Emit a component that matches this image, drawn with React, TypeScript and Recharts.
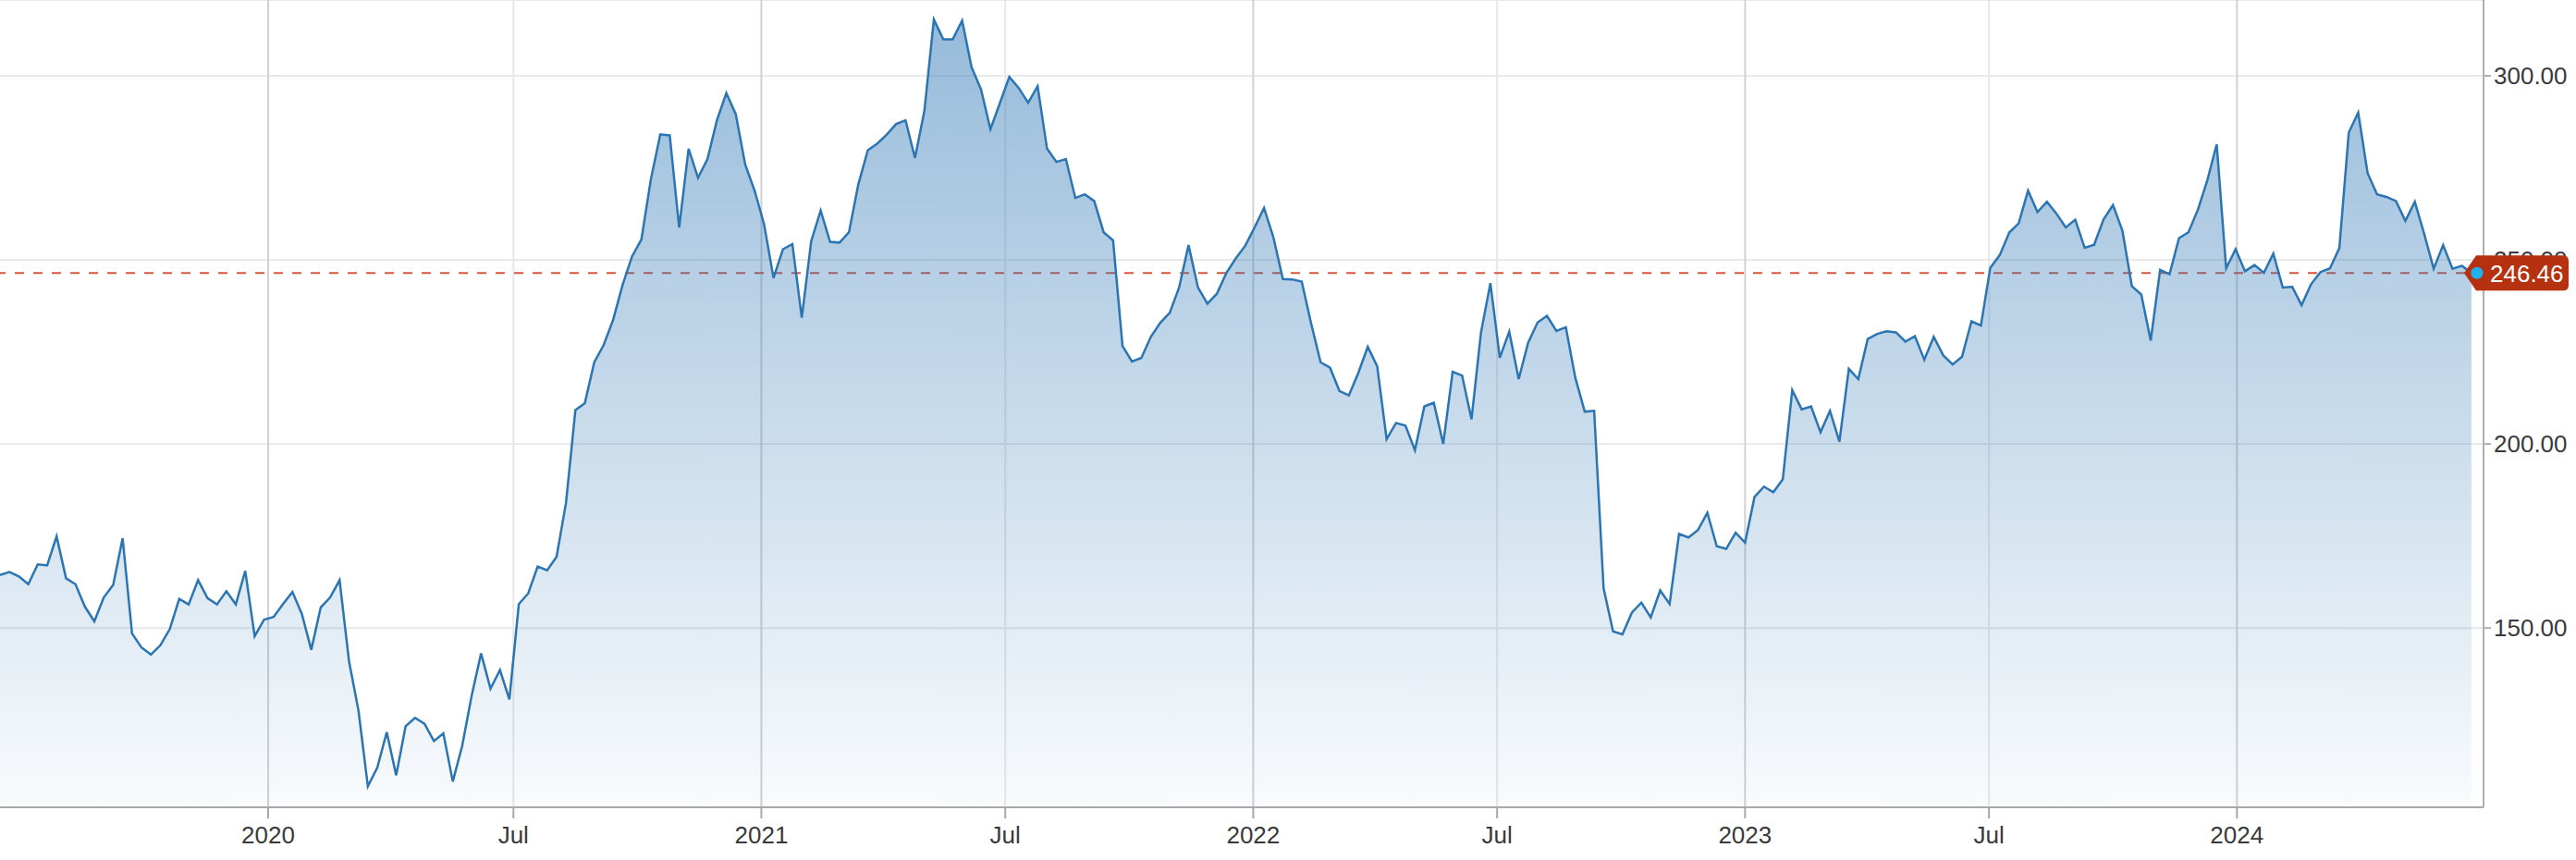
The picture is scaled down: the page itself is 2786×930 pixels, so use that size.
import React from 'react';
import { AreaChart, Area, XAxis, YAxis, CartesianGrid, ReferenceLine, ReferenceDot } from 'recharts';

// weekly closes, first week starting mid-June 2019
const startDate = '2019-06-16';
const prices = [
  164.4, 165.2, 164.0, 161.9, 167.3, 167.0, 174.9, 163.5, 161.9, 155.8,
  151.8, 158.3, 161.7, 174.4, 148.5, 144.7, 142.8, 145.3, 149.7, 157.9,
  156.4, 163.0, 158.1, 156.4, 160.0, 156.4, 165.5, 147.8, 152.3, 153.0,
  156.5, 159.8, 153.8, 144.1, 155.6, 158.3, 163.0, 141.0, 127.6, 107.0,
  112.1, 121.7, 110.0, 123.3, 125.6, 124.0, 119.3, 121.4, 108.3, 118.0,
  131.6, 143.1, 133.5, 138.6, 130.6, 156.5, 159.4, 166.7, 165.7, 169.3,
  183.9, 209.2, 211.1, 222.2, 226.9, 233.7, 243.2, 250.9, 255.6, 271.9,
  284.1, 283.8, 258.8, 280.2, 272.3, 277.4, 287.9, 295.3,
  289.6, 275.9, 268.8, 259.7, 245.1, 252.9, 254.3, 234.3, 255.1, 263.4,
  254.9, 254.7, 257.5, 270.6, 279.8, 281.6, 284.0, 286.9, 287.9, 277.7,
  290.5, 315.3, 309.9, 309.9, 315.0, 302.3, 296.3, 285.5, 292.6, 299.7,
  296.7, 292.7, 297.2, 280.2, 276.6, 277.4, 266.8,
  267.8, 266.0, 257.5, 255.3, 226.6, 222.4, 223.4, 229.1, 232.9, 235.6,
  242.5, 254.0, 242.5, 238.1, 240.8, 246.4, 250.4, 253.8, 258.8, 264.1,
  256.1, 244.8, 244.7, 244.1, 232.7, 222.2, 220.7, 214.4, 213.2, 219.3,
  226.4, 221.1, 201.3, 205.7, 205.0, 198.3, 210.2, 211.2, 200.0,
  219.6, 218.6, 206.7, 230.2, 243.7, 223.4, 230.5, 217.6, 227.5, 233.0,
  234.8, 230.7, 231.7, 218.0, 208.8, 209.0, 160.8, 149.1, 148.3, 154.2,
  156.9, 152.9, 160.2, 156.5, 175.6, 174.6, 176.6, 181.3, 172.2, 171.5,
  175.9, 173.2, 185.6, 188.4, 186.9, 190.4, 214.6, 209.4,
  210.2, 203.2, 209.0, 200.6, 220.4, 217.6, 228.5, 229.9, 230.6, 230.3,
  227.8, 229.3, 222.9, 229.1, 224.1, 221.6, 223.7, 233.3, 232.2, 247.9,
  251.3, 257.4, 259.9, 268.8, 263.0, 265.8, 262.6, 258.8, 260.9, 253.3,
  254.1, 261.0, 264.9, 258.0, 242.9, 240.6, 228.1,
  247.3, 246.1, 255.9, 257.5, 263.6, 271.6, 281.4, 247.7, 252.9, 246.9,
  248.6, 246.5, 251.7, 242.5, 242.7, 237.7, 243.4, 246.7, 247.7, 253.2,
  284.6, 290.0, 273.5, 267.8, 267.1, 266.0, 260.6, 265.8, 257.0, 247.6,
  254.0, 247.6, 248.4, 246.46,
];
const lastPrice = 246.46;

const xTickDates = [
  '2020-01-01', '2020-07-01', '2021-01-01', '2021-07-01', '2022-01-01',
  '2022-07-01', '2023-01-01', '2023-07-01', '2024-01-01',
];
const xTickLabels = ['2020', 'Jul', '2021', 'Jul', '2022', 'Jul', '2023', 'Jul', '2024'];
const yTicks = [150, 200, 250, 300];

const DAY = 86400000;
const t0 = Date.parse(startDate);
const tEnd = t0 + 1843 * DAY;
const data = prices.map((price, i) => ({ t: t0 + i * 7 * DAY, price }));
const lastT = data[data.length - 1].t;
const xTicks = xTickDates.map((d) => Date.parse(d));

const FONT = "'Liberation Sans', Arial, sans-serif";

const PriceTag = (props: any) => {
  const { cx, cy } = props;
  const tip = cx - 21;
  const left = cx - 8;
  const right = cx + 92;
  const top = cy - 19;
  const bottom = cy + 19;
  const r = 6;
  const d = `M${tip},${cy} L${left},${top} L${right - r},${top} Q${right},${top} ${right},${top + r} ` +
    `L${right},${bottom - r} Q${right},${bottom} ${right - r},${bottom} L${left},${bottom} Z`;
  return (
    <g>
      <path d={d} fill="#b5310f" />
      <text x={cx + 7} y={cy} dy="0.36em" fill="#fff" fontSize={26} fontFamily={FONT}>
        {lastPrice.toFixed(2)}
      </text>
    </g>
  );
};

const LastDot = (props: any) => (
  <circle cx={props.cx + 6} cy={props.cy} r={6.5} fill="#1eb2f2" />
);

export default function App() {
  return (
    <div style={{ position: 'absolute', left: 0, top: 0, width: 2786, height: 930, background: '#fff' }}>
      <AreaChart width={2786} height={930} data={data} margin={{ top: 0, right: 0, bottom: 0, left: 0 }}>
        <defs>
          <linearGradient id="priceFill" x1="0" y1="0" x2="0" y2="1">
            <stop offset="0%" stopColor="#2f77b5" stopOpacity={0.5} />
            <stop offset="100%" stopColor="#2f77b5" stopOpacity={0.03} />
          </linearGradient>
        </defs>
        <CartesianGrid vertical={false} stroke="#e9e9e9" strokeWidth={2} />
        {xTicks.map((t, i) => (
          <ReferenceLine key={t} x={t} zIndex={-60} stroke={i % 2 === 0 ? '#d2d2d2' : '#e8e8e8'} strokeWidth={2} />
        ))}
        <ReferenceLine y={lastPrice} zIndex={-50} stroke="#d6573d" strokeWidth={2} strokeDasharray="10 10" />
        <XAxis
          dataKey="t"
          type="number"
          domain={[t0, tEnd]}
          ticks={xTicks}
          interval={0}
          tickFormatter={(t: number) => xTickLabels[xTicks.indexOf(t)] ?? ''}
          height={57}
          tickSize={12}
          tickMargin={9}
          axisLine={{ stroke: '#a8a8a8', strokeWidth: 2 }}
          tickLine={{ stroke: '#a8a8a8', strokeWidth: 2 }}
          tick={{ fill: '#3a3a3a', fontSize: 26, fontFamily: FONT }}
          allowDataOverflow
        />
        <YAxis
          orientation="right"
          width={100}
          domain={[101.3, 320.6]}
          ticks={yTicks}
          interval={0}
          tickFormatter={(v: number) => v.toFixed(2)}
          tickSize={8}
          tickMargin={3}
          axisLine={{ stroke: '#b0b0b0', strokeWidth: 2 }}
          tickLine={{ stroke: '#b0b0b0', strokeWidth: 2 }}
          tick={{ fill: '#3a3a3a', fontSize: 26, fontFamily: FONT }}
          allowDataOverflow
        />
        <Area
          type="linear"
          dataKey="price"
          stroke="#2b75b3"
          strokeWidth={2.5}
          fill="url(#priceFill)"
          fillOpacity={1}
          dot={false}
          activeDot={false}
          isAnimationActive={false}
        />
        <ReferenceDot x={tEnd} y={lastPrice} r={0} zIndex={3000} shape={PriceTag} />
        <ReferenceDot x={lastT} y={lastPrice} r={0} zIndex={3001} shape={LastDot} />
      </AreaChart>
    </div>
  );
}
